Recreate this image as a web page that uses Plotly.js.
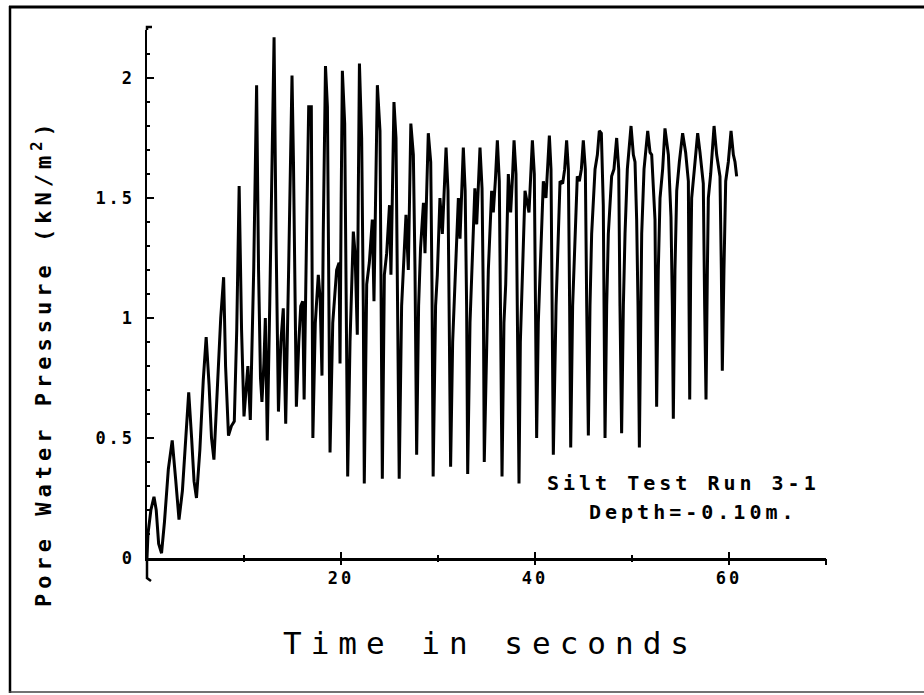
<!DOCTYPE html>
<html>
<head>
<meta charset="utf-8">
<script src="https://cdn.plot.ly/plotly-3.0.1.min.js"></script>
<style>
  html, body { margin: 0; padding: 0; background: #fff; }
  #chart { width: 924px; height: 695px; }
  text[style*="font-size: 17px"] { letter-spacing: 3px; }
  text[style*="font-size: 22px"] { letter-spacing: 5px; }
  text[style*="font-size: 20px"] { letter-spacing: 4px; }
  text[style*="font-size: 31px"] { letter-spacing: 9px; }
</style>
</head>
<body>
<div id="chart"></div>
<script>
// ---- Data (time in s, pore water pressure in kN/m^2) ----
const time_s = [
  0.00, 0.10, 0.40, 0.72, 0.95, 1.20, 1.50, 1.80, 2.20, 2.60, 2.95, 3.30, 3.65, 4.00, 4.30, 4.60, 4.85, 5.10,
  5.45, 5.80, 6.10, 6.40, 6.65, 6.90, 7.25, 7.60, 7.90, 8.10, 8.40, 8.70, 9.00, 9.25, 9.50, 9.75, 10.00, 10.40,
  10.65, 11.00, 11.30,
  11.50, 11.70, 11.85, 12.05, 12.20, 12.30, 12.40, 12.65, 12.90, 13.10, 13.30, 13.45, 13.55, 13.80, 14.05, 14.20,
  14.30, 14.60, 14.95, 15.10, 15.30, 15.40, 15.65, 15.85, 16.05, 16.20, 16.45, 16.67, 16.94, 17.02, 17.10, 17.35,
  17.66, 17.85, 18.04, 18.17, 18.40, 18.60, 18.70, 18.87, 19.15, 19.55, 19.80, 19.90, 20.02, 20.14, 20.38, 20.52,
  20.69, 20.93, 21.27, 21.45, 21.68, 21.78, 21.90, 22.13, 22.30, 22.40, 22.65, 22.92, 23.23, 23.40, 23.58, 23.75,
  24.02, 24.12, 24.26, 24.47, 24.71, 25.00, 25.15, 25.29, 25.46, 25.67, 25.81, 26.00, 26.25, 26.43, 26.70, 26.94,
  27.04, 27.20, 27.46, 27.63, 27.80, 28.00, 28.20, 28.50, 28.66, 28.83, 29.00, 29.25, 29.38, 29.50, 29.75, 29.93,
  30.20, 30.45, 30.62, 30.83, 31.03, 31.17, 31.30, 31.51, 31.75, 32.10, 32.27, 32.44, 32.61, 32.80, 32.95, 33.06,
  33.30, 33.47, 33.80, 33.99, 34.16, 34.33, 34.54, 34.68, 34.77, 35.02, 35.19, 35.53, 35.70, 35.91, 36.12, 36.32,
  36.43, 36.60, 36.80, 36.98, 37.25, 37.49, 37.66, 37.84, 38.04, 38.18, 38.35, 38.49, 38.63, 38.97, 39.38, 39.55,
  39.73, 39.93, 40.03, 40.17, 40.34, 40.52, 40.86, 41.13, 41.31, 41.48, 41.65, 41.75, 41.89,
  42.17, 42.41, 42.58, 42.85, 43.06, 43.26, 43.44, 43.57, 43.68, 43.88, 44.12, 44.36, 44.57, 44.78, 44.98, 45.19,
  45.33, 45.50, 45.67, 45.84, 46.19, 46.43, 46.63, 46.84, 47.04, 47.11, 47.22, 47.39, 47.56, 47.90, 48.14, 48.42,
  48.63, 48.76, 48.93, 49.11, 49.28, 49.52, 49.90, 50.14, 50.31, 50.48, 50.62, 50.76, 50.89, 51.00, 51.24, 51.62,
  51.86, 52.03, 52.37, 52.47, 52.54, 52.71, 52.89, 53.16, 53.40, 53.75, 54.02, 54.16, 54.26, 54.43, 54.61, 54.88,
  55.22, 55.53, 55.81, 55.88, 55.95, 56.05, 56.15, 56.43, 56.77, 57.01, 57.35, 57.49, 57.63, 57.77, 57.87, 58.11,
  58.46, 58.73, 59.07, 59.21, 59.31, 59.48, 59.66, 59.93, 60.21, 60.45, 60.62, 60.79
];
const pressure = [
  0.00, 0.10, 0.20, 0.255, 0.20, 0.06, 0.02, 0.15, 0.37, 0.49, 0.33, 0.16, 0.28, 0.52, 0.69, 0.50, 0.32, 0.25,
  0.45, 0.74, 0.92, 0.72, 0.50, 0.41, 0.68, 1.00, 1.17, 0.80, 0.51, 0.55, 0.57, 0.95, 1.55, 0.95, 0.59, 0.80,
  0.575, 1.20, 1.97,
  1.20, 0.75, 0.65, 0.81, 1.00, 0.75, 0.49, 1.05, 1.65, 2.17, 1.35, 0.75, 0.61, 0.90, 1.04, 0.75,
  0.56, 1.20, 2.01, 1.65, 0.90, 0.63, 0.90, 1.05, 1.07, 0.66, 1.35, 1.88, 1.88, 1.20, 0.50, 0.98,
  1.18, 1.08, 0.76, 1.35, 2.05, 1.88, 1.20, 0.44, 0.98, 1.20, 1.23, 0.81, 1.50, 2.03, 1.81, 1.20,
  0.34, 0.90, 1.36, 1.27, 0.93, 1.50, 2.06, 1.75, 1.05, 0.31, 1.14, 1.23, 1.41, 1.07, 1.50, 1.97,
  1.78, 1.20, 0.33, 1.18, 1.27, 1.47, 1.18, 1.50, 1.90, 1.75, 1.20, 0.33, 1.05, 1.20, 1.43, 1.20,
  1.50, 1.81, 1.68, 1.20, 0.43, 1.05, 1.29, 1.48, 1.27, 1.50, 1.77, 1.65, 1.13, 0.34, 1.05, 1.18,
  1.50, 1.35, 1.50, 1.71, 1.53, 1.05, 0.38, 0.90, 1.14, 1.50, 1.33, 1.50, 1.71, 1.53, 1.05, 0.35,
  0.98, 1.17, 1.54, 1.39, 1.53, 1.71, 1.54, 1.05, 0.40, 0.98, 1.20, 1.53, 1.44, 1.57, 1.74, 1.57,
  1.05, 0.34, 0.98, 1.14, 1.60, 1.44, 1.57, 1.74, 1.60, 1.05, 0.31, 0.90, 1.11, 1.53, 1.44, 1.57,
  1.74, 1.60, 1.05, 0.50, 0.98, 1.20, 1.57, 1.50, 1.62, 1.76, 1.62, 1.05, 0.43,
  1.05, 1.35, 1.57, 1.56, 1.62, 1.74, 1.62, 1.05, 0.46, 1.05, 1.35, 1.59, 1.57, 1.62, 1.74, 1.62,
  1.05, 0.51, 1.05, 1.35, 1.62, 1.68, 1.78, 1.77, 1.47, 1.05, 0.50, 1.05, 1.35, 1.59, 1.62, 1.75,
  1.62, 1.05, 0.52, 1.05, 1.35, 1.62, 1.80, 1.68, 1.65, 1.41, 1.05, 0.46, 1.05, 1.35, 1.62, 1.78,
  1.69, 1.68, 1.41, 1.05, 0.63, 1.20, 1.50, 1.62, 1.79, 1.68, 1.42, 1.05, 0.58, 1.20, 1.53, 1.65,
  1.77, 1.69, 1.57, 1.05, 0.66, 1.20, 1.50, 1.62, 1.77, 1.69, 1.56, 1.05, 0.66, 1.20, 1.50, 1.60,
  1.80, 1.68, 1.59, 1.20, 0.78, 1.20, 1.57, 1.65, 1.78, 1.68, 1.65, 1.59
];
const xLabelTicks = [20, 40, 60];
const xMajorTicks = [20, 40, 60, 70];
const xMinorTicks = [10, 30, 50, 70];
const yTitleText = 'Pore Water Pressure (kN/m<sup>2</sup>)';
const xTitleText = 'Time in seconds';
const noteLine1 = 'Silt Test Run 3-1';
const noteLine2 = 'Depth=-0.10m.';

// ---- layout helpers (pixel -> paper) ----
const L = 147, R = 826, T = 30, B = 558;
const px2x = px => (px - L) / (R - L);
const px2y = py => (B - py) / (B - T);

const monoBold = {family: 'DejaVu Sans Mono', size: 17, color: '#000', weight: 'bold'};

const traces = [
  {x: time_s, y: pressure, type: 'scatter', mode: 'lines',
   line: {color: '#000', width: 3}, hoverinfo: 'skip'},
  {x: [time_s[0]], y: [pressure[0]], xaxis: 'x2', type: 'scatter', mode: 'markers',
   marker: {opacity: 0}, hoverinfo: 'skip'}
];

const layout = {
  width: 924, height: 695,
  margin: {l: L, r: 924 - R, t: T, b: 695 - B},
  paper_bgcolor: '#fff', plot_bgcolor: '#fff',
  showlegend: false,
  xaxis: {
    range: [0, 70], showline: true, linecolor: '#000', linewidth: 2.5,
    showgrid: false, zeroline: false,
    tickmode: 'array', tickvals: xLabelTicks,
    ticks: 'inside', ticklen: 6, tickwidth: 2, tickcolor: '#000',
    minor: {tickmode: 'array', tickvals: xMinorTicks, ticks: 'inside', ticklen: 3, tickwidth: 2, tickcolor: '#000'},
    tickfont: monoBold, ticklabelstandoff: 3
  },
  xaxis2: {
    overlaying: 'x', anchor: 'y', range: [0, 70], showline: false,
    showgrid: false, zeroline: false, showticklabels: false,
    tickmode: 'array', tickvals: xMajorTicks,
    ticks: 'outside', ticklen: 6, tickwidth: 2, tickcolor: '#000',
    minor: {tickmode: 'array', tickvals: [10, 30, 50], ticks: 'outside', ticklen: 3, tickwidth: 2, tickcolor: '#000'}
  },
  yaxis: {
    range: [0, 2.2], showline: true, linecolor: '#000', linewidth: 2.5,
    showgrid: false, zeroline: false,
    tick0: 0, dtick: 0.5,
    ticks: 'inside', ticklen: 7, tickwidth: 2, tickcolor: '#000',
    minor: {tick0: 0, dtick: 0.1, ticks: 'inside', ticklen: 3, tickwidth: 2, tickcolor: '#000'},
    tickfont: monoBold, ticklabelstandoff: 6
  },
  annotations: [
    {text: yTitleText, xref: 'paper', yref: 'paper', x: px2x(42), y: px2y(363),
     xanchor: 'center', yanchor: 'middle', textangle: -90, showarrow: false,
     font: {family: 'DejaVu Sans Mono', size: 22, color: '#000', weight: 'bold'}},
    {text: xTitleText, xref: 'paper', yref: 'paper', x: px2x(490), y: px2y(643),
     xanchor: 'center', yanchor: 'middle', showarrow: false,
     font: {family: 'DejaVu Sans Mono', size: 31, color: '#000'}},
    {text: noteLine1, xref: 'paper', yref: 'paper', x: px2x(683), y: px2y(483),
     xanchor: 'center', yanchor: 'middle', showarrow: false,
     font: {family: 'DejaVu Sans Mono', size: 20, color: '#000', weight: 'bold'}},
    {text: noteLine2, xref: 'paper', yref: 'paper', x: px2x(693), y: px2y(512),
     xanchor: 'center', yanchor: 'middle', showarrow: false,
     font: {family: 'DejaVu Sans Mono', size: 20, color: '#000', weight: 'bold'}}
  ],
  shapes: [
    {type: 'line', xref: 'paper', yref: 'paper', x0: px2x(10), x1: px2x(10), y0: px2y(6), y1: px2y(693),
     line: {color: '#000', width: 2.5}},
    {type: 'line', xref: 'paper', yref: 'paper', x0: px2x(9), x1: px2x(924), y0: px2y(7), y1: px2y(7),
     line: {color: '#000', width: 3}},
    {type: 'line', xref: 'paper', yref: 'paper', x0: px2x(9), x1: px2x(924), y0: px2y(692), y1: px2y(692),
     line: {color: '#444', width: 1.5}},
    {type: 'path', xref: 'paper', yref: 'paper',
     path: 'M ' + px2x(147) + ' ' + px2y(558) + ' L ' + px2x(147) + ' ' + px2y(578) + ' L ' + px2x(151) + ' ' + px2y(581),
     line: {color: '#000', width: 2.5}},
    {type: 'path', xref: 'paper', yref: 'paper',
     path: 'M ' + px2x(147) + ' ' + px2y(30) + ' L ' + px2x(147) + ' ' + px2y(27) + ' L ' + px2x(152) + ' ' + px2y(27),
     line: {color: '#000', width: 2.5}}
  ]
};

Plotly.newPlot('chart', traces, layout, {displayModeBar: false, staticPlot: true});
</script>
</body>
</html>
